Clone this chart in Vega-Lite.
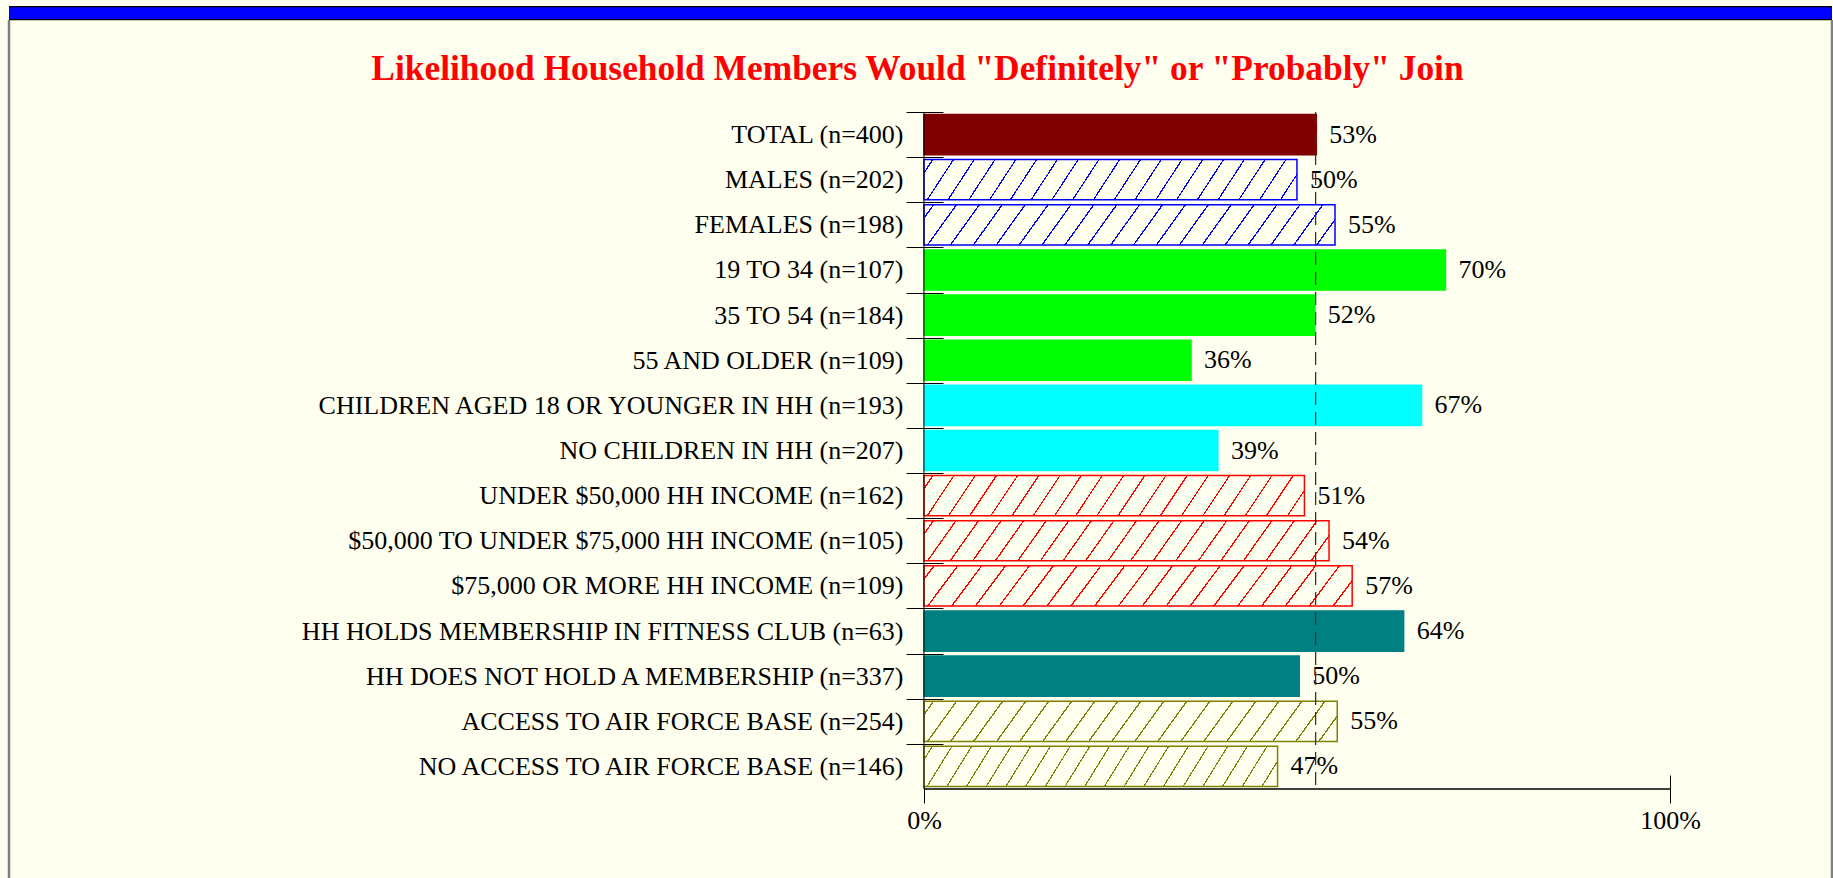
{
  "$schema": "https://vega.github.io/schema/vega-lite/v6.json",
  "width": 1823,
  "height": 858,
  "autosize": {"type": "none"},
  "padding": {"left": 9, "top": 20, "right": 1, "bottom": 0},
  "background": "#FFFFF0",
  "config": {"view": {"stroke": null}, "font": "Liberation Serif"},
  "title": {
    "text": "Likelihood Household Members Would \"Definitely\" or \"Probably\" Join",
    "font": "Liberation Serif", "fontSize": 35.4, "fontWeight": "bold", "color": "#FF0000",
    "anchor": "middle", "frame": "group", "orient": "top", "baseline": "alphabetic", "offset": -102, "dx": -3
  },
  "data": {"values": [
    {"label": "TOTAL (n=400)", "grp": "total", "v": 0.526},
    {"label": "MALES (n=202)", "grp": "gender", "v": 0.500},
    {"label": "FEMALES (n=198)", "grp": "gender", "v": 0.551},
    {"label": "19 TO 34 (n=107)", "grp": "age", "v": 0.699},
    {"label": "35 TO 54 (n=184)", "grp": "age", "v": 0.524},
    {"label": "55 AND OLDER (n=109)", "grp": "age", "v": 0.358},
    {"label": "CHILDREN AGED 18 OR YOUNGER IN HH (n=193)", "grp": "children", "v": 0.667},
    {"label": "NO CHILDREN IN HH (n=207)", "grp": "children", "v": 0.394},
    {"label": "UNDER $50,000 HH INCOME (n=162)", "grp": "income", "v": 0.510},
    {"label": "$50,000 TO UNDER $75,000 HH INCOME (n=105)", "grp": "income", "v": 0.543},
    {"label": "$75,000 OR MORE HH INCOME (n=109)", "grp": "income", "v": 0.574},
    {"label": "HH HOLDS MEMBERSHIP IN FITNESS CLUB (n=63)", "grp": "member", "v": 0.643},
    {"label": "HH DOES NOT HOLD A MEMBERSHIP (n=337)", "grp": "member", "v": 0.503},
    {"label": "ACCESS TO AIR FORCE BASE (n=254)", "grp": "afb", "v": 0.554},
    {"label": "NO ACCESS TO AIR FORCE BASE (n=146)", "grp": "afb", "v": 0.474}
  ]},
  "resolve": {"axis": {"x": "independent", "y": "independent"}},
  "layer": [
    {
      "mark": {"type": "bar", "height": {"band": 0.89}, "strokeWidth": 1.5},
      "encoding": {
        "y": {"field": "label", "type": "nominal", "sort": null,
          "scale": {"domain": ["pad1", "pad2", "TOTAL (n=400)", "MALES (n=202)", "FEMALES (n=198)", "19 TO 34 (n=107)", "35 TO 54 (n=184)", "55 AND OLDER (n=109)", "CHILDREN AGED 18 OR YOUNGER IN HH (n=193)", "NO CHILDREN IN HH (n=207)", "UNDER $50,000 HH INCOME (n=162)", "$50,000 TO UNDER $75,000 HH INCOME (n=105)", "$75,000 OR MORE HH INCOME (n=109)", "HH HOLDS MEMBERSHIP IN FITNESS CLUB (n=63)", "HH DOES NOT HOLD A MEMBERSHIP (n=337)", "ACCESS TO AIR FORCE BASE (n=254)", "NO ACCESS TO AIR FORCE BASE (n=146)", "pad3"], "paddingInner": 0, "paddingOuter": 0.505, "align": 0.038},
          "axis": {"orient": "left", "offset": -934, "title": null, "domain": false, "grid": false, "ticks": true, "tickSize": 37, "tickColor": "#000000", "tickWidth": 1, "tickOffset": -22.57, "labelOffset": 22.57, "labelPadding": 3, "labelFont": "Liberation Serif", "labelFontSize": 26, "labelColor": "#000000", "labelLimit": 0, "labelOverlap": false,
            "values": ["TOTAL (n=400)", "MALES (n=202)", "FEMALES (n=198)", "19 TO 34 (n=107)", "35 TO 54 (n=184)", "55 AND OLDER (n=109)", "CHILDREN AGED 18 OR YOUNGER IN HH (n=193)", "NO CHILDREN IN HH (n=207)", "UNDER $50,000 HH INCOME (n=162)", "$50,000 TO UNDER $75,000 HH INCOME (n=105)", "$75,000 OR MORE HH INCOME (n=109)", "HH HOLDS MEMBERSHIP IN FITNESS CLUB (n=63)", "HH DOES NOT HOLD A MEMBERSHIP (n=337)", "ACCESS TO AIR FORCE BASE (n=254)", "NO ACCESS TO AIR FORCE BASE (n=146)"]}
        },
        "x": {"field": "v", "type": "quantitative",
          "scale": {"domain": [-1.2265, 1.2172], "nice": false},
          "axis": {"orient": "bottom", "offset": -103, "values": [0, 1], "format": ".0%", "domain": false, "grid": false, "tickSize": 28, "tickColor": "#000000", "tickWidth": 1, "labelPadding": 4, "labelFont": "Liberation Serif", "labelFontSize": 26, "labelColor": "#000000", "labelFlush": false, "title": null}
        },
        "fill": {"field": "grp", "type": "nominal", "legend": null,
          "scale": {"domain": ["total", "gender", "age", "children", "income", "member", "afb"], "range": ["#800000", "#0000FF", "#00FF00", "#00FFFF", "#FF0000", "#008080", "#808000"]},
          "condition": [
            {"test": "datum.grp === 'gender'", "value": {"gradient": "linear", "x1": 0, "y1": 0, "x2": 1.065, "y2": 0.0748, "stops": [
              {"offset": 0.0200, "color": "#FFFFF0"}, {"offset": 0.0200, "color": "#0000FF"}, {"offset": 0.0236, "color": "#0000FF"}, {"offset": 0.0236, "color": "#FFFFF0"},
              {"offset": 0.0720, "color": "#FFFFF0"}, {"offset": 0.0720, "color": "#0000FF"}, {"offset": 0.0756, "color": "#0000FF"}, {"offset": 0.0756, "color": "#FFFFF0"},
              {"offset": 0.1241, "color": "#FFFFF0"}, {"offset": 0.1241, "color": "#0000FF"}, {"offset": 0.1277, "color": "#0000FF"}, {"offset": 0.1277, "color": "#FFFFF0"},
              {"offset": 0.1761, "color": "#FFFFF0"}, {"offset": 0.1761, "color": "#0000FF"}, {"offset": 0.1797, "color": "#0000FF"}, {"offset": 0.1797, "color": "#FFFFF0"},
              {"offset": 0.2282, "color": "#FFFFF0"}, {"offset": 0.2282, "color": "#0000FF"}, {"offset": 0.2318, "color": "#0000FF"}, {"offset": 0.2318, "color": "#FFFFF0"},
              {"offset": 0.2802, "color": "#FFFFF0"}, {"offset": 0.2802, "color": "#0000FF"}, {"offset": 0.2838, "color": "#0000FF"}, {"offset": 0.2838, "color": "#FFFFF0"},
              {"offset": 0.3322, "color": "#FFFFF0"}, {"offset": 0.3322, "color": "#0000FF"}, {"offset": 0.3358, "color": "#0000FF"}, {"offset": 0.3358, "color": "#FFFFF0"},
              {"offset": 0.3843, "color": "#FFFFF0"}, {"offset": 0.3843, "color": "#0000FF"}, {"offset": 0.3879, "color": "#0000FF"}, {"offset": 0.3879, "color": "#FFFFF0"},
              {"offset": 0.4363, "color": "#FFFFF0"}, {"offset": 0.4363, "color": "#0000FF"}, {"offset": 0.4399, "color": "#0000FF"}, {"offset": 0.4399, "color": "#FFFFF0"},
              {"offset": 0.4884, "color": "#FFFFF0"}, {"offset": 0.4884, "color": "#0000FF"}, {"offset": 0.4920, "color": "#0000FF"}, {"offset": 0.4920, "color": "#FFFFF0"},
              {"offset": 0.5404, "color": "#FFFFF0"}, {"offset": 0.5404, "color": "#0000FF"}, {"offset": 0.5440, "color": "#0000FF"}, {"offset": 0.5440, "color": "#FFFFF0"},
              {"offset": 0.5924, "color": "#FFFFF0"}, {"offset": 0.5924, "color": "#0000FF"}, {"offset": 0.5960, "color": "#0000FF"}, {"offset": 0.5960, "color": "#FFFFF0"},
              {"offset": 0.6445, "color": "#FFFFF0"}, {"offset": 0.6445, "color": "#0000FF"}, {"offset": 0.6481, "color": "#0000FF"}, {"offset": 0.6481, "color": "#FFFFF0"},
              {"offset": 0.6965, "color": "#FFFFF0"}, {"offset": 0.6965, "color": "#0000FF"}, {"offset": 0.7001, "color": "#0000FF"}, {"offset": 0.7001, "color": "#FFFFF0"},
              {"offset": 0.7486, "color": "#FFFFF0"}, {"offset": 0.7486, "color": "#0000FF"}, {"offset": 0.7522, "color": "#0000FF"}, {"offset": 0.7522, "color": "#FFFFF0"},
              {"offset": 0.8006, "color": "#FFFFF0"}, {"offset": 0.8006, "color": "#0000FF"}, {"offset": 0.8042, "color": "#0000FF"}, {"offset": 0.8042, "color": "#FFFFF0"},
              {"offset": 0.8526, "color": "#FFFFF0"}, {"offset": 0.8526, "color": "#0000FF"}, {"offset": 0.8562, "color": "#0000FF"}, {"offset": 0.8562, "color": "#FFFFF0"},
              {"offset": 0.9047, "color": "#FFFFF0"}, {"offset": 0.9047, "color": "#0000FF"}, {"offset": 0.9083, "color": "#0000FF"}, {"offset": 0.9083, "color": "#FFFFF0"},
              {"offset": 0.9567, "color": "#FFFFF0"}, {"offset": 0.9567, "color": "#0000FF"}, {"offset": 0.9603, "color": "#0000FF"}, {"offset": 0.9603, "color": "#FFFFF0"}
            ]}},
            {"test": "datum.grp === 'income'", "value": {"gradient": "linear", "x1": 0, "y1": 0, "x2": 1.065, "y2": 0.0748, "stops": [
              {"offset": 0.0200, "color": "#FFFFF0"}, {"offset": 0.0200, "color": "#FF0000"}, {"offset": 0.0236, "color": "#FF0000"}, {"offset": 0.0236, "color": "#FFFFF0"},
              {"offset": 0.0720, "color": "#FFFFF0"}, {"offset": 0.0720, "color": "#FF0000"}, {"offset": 0.0756, "color": "#FF0000"}, {"offset": 0.0756, "color": "#FFFFF0"},
              {"offset": 0.1241, "color": "#FFFFF0"}, {"offset": 0.1241, "color": "#FF0000"}, {"offset": 0.1277, "color": "#FF0000"}, {"offset": 0.1277, "color": "#FFFFF0"},
              {"offset": 0.1761, "color": "#FFFFF0"}, {"offset": 0.1761, "color": "#FF0000"}, {"offset": 0.1797, "color": "#FF0000"}, {"offset": 0.1797, "color": "#FFFFF0"},
              {"offset": 0.2282, "color": "#FFFFF0"}, {"offset": 0.2282, "color": "#FF0000"}, {"offset": 0.2318, "color": "#FF0000"}, {"offset": 0.2318, "color": "#FFFFF0"},
              {"offset": 0.2802, "color": "#FFFFF0"}, {"offset": 0.2802, "color": "#FF0000"}, {"offset": 0.2838, "color": "#FF0000"}, {"offset": 0.2838, "color": "#FFFFF0"},
              {"offset": 0.3322, "color": "#FFFFF0"}, {"offset": 0.3322, "color": "#FF0000"}, {"offset": 0.3358, "color": "#FF0000"}, {"offset": 0.3358, "color": "#FFFFF0"},
              {"offset": 0.3843, "color": "#FFFFF0"}, {"offset": 0.3843, "color": "#FF0000"}, {"offset": 0.3879, "color": "#FF0000"}, {"offset": 0.3879, "color": "#FFFFF0"},
              {"offset": 0.4363, "color": "#FFFFF0"}, {"offset": 0.4363, "color": "#FF0000"}, {"offset": 0.4399, "color": "#FF0000"}, {"offset": 0.4399, "color": "#FFFFF0"},
              {"offset": 0.4884, "color": "#FFFFF0"}, {"offset": 0.4884, "color": "#FF0000"}, {"offset": 0.4920, "color": "#FF0000"}, {"offset": 0.4920, "color": "#FFFFF0"},
              {"offset": 0.5404, "color": "#FFFFF0"}, {"offset": 0.5404, "color": "#FF0000"}, {"offset": 0.5440, "color": "#FF0000"}, {"offset": 0.5440, "color": "#FFFFF0"},
              {"offset": 0.5924, "color": "#FFFFF0"}, {"offset": 0.5924, "color": "#FF0000"}, {"offset": 0.5960, "color": "#FF0000"}, {"offset": 0.5960, "color": "#FFFFF0"},
              {"offset": 0.6445, "color": "#FFFFF0"}, {"offset": 0.6445, "color": "#FF0000"}, {"offset": 0.6481, "color": "#FF0000"}, {"offset": 0.6481, "color": "#FFFFF0"},
              {"offset": 0.6965, "color": "#FFFFF0"}, {"offset": 0.6965, "color": "#FF0000"}, {"offset": 0.7001, "color": "#FF0000"}, {"offset": 0.7001, "color": "#FFFFF0"},
              {"offset": 0.7486, "color": "#FFFFF0"}, {"offset": 0.7486, "color": "#FF0000"}, {"offset": 0.7522, "color": "#FF0000"}, {"offset": 0.7522, "color": "#FFFFF0"},
              {"offset": 0.8006, "color": "#FFFFF0"}, {"offset": 0.8006, "color": "#FF0000"}, {"offset": 0.8042, "color": "#FF0000"}, {"offset": 0.8042, "color": "#FFFFF0"},
              {"offset": 0.8526, "color": "#FFFFF0"}, {"offset": 0.8526, "color": "#FF0000"}, {"offset": 0.8562, "color": "#FF0000"}, {"offset": 0.8562, "color": "#FFFFF0"},
              {"offset": 0.9047, "color": "#FFFFF0"}, {"offset": 0.9047, "color": "#FF0000"}, {"offset": 0.9083, "color": "#FF0000"}, {"offset": 0.9083, "color": "#FFFFF0"},
              {"offset": 0.9567, "color": "#FFFFF0"}, {"offset": 0.9567, "color": "#FF0000"}, {"offset": 0.9603, "color": "#FF0000"}, {"offset": 0.9603, "color": "#FFFFF0"}
            ]}},
            {"test": "datum.grp === 'afb'", "value": {"gradient": "linear", "x1": 0, "y1": 0, "x2": 1.065, "y2": 0.0748, "stops": [
              {"offset": 0.0200, "color": "#FFFFF0"}, {"offset": 0.0200, "color": "#808000"}, {"offset": 0.0236, "color": "#808000"}, {"offset": 0.0236, "color": "#FFFFF0"},
              {"offset": 0.0720, "color": "#FFFFF0"}, {"offset": 0.0720, "color": "#808000"}, {"offset": 0.0756, "color": "#808000"}, {"offset": 0.0756, "color": "#FFFFF0"},
              {"offset": 0.1241, "color": "#FFFFF0"}, {"offset": 0.1241, "color": "#808000"}, {"offset": 0.1277, "color": "#808000"}, {"offset": 0.1277, "color": "#FFFFF0"},
              {"offset": 0.1761, "color": "#FFFFF0"}, {"offset": 0.1761, "color": "#808000"}, {"offset": 0.1797, "color": "#808000"}, {"offset": 0.1797, "color": "#FFFFF0"},
              {"offset": 0.2282, "color": "#FFFFF0"}, {"offset": 0.2282, "color": "#808000"}, {"offset": 0.2318, "color": "#808000"}, {"offset": 0.2318, "color": "#FFFFF0"},
              {"offset": 0.2802, "color": "#FFFFF0"}, {"offset": 0.2802, "color": "#808000"}, {"offset": 0.2838, "color": "#808000"}, {"offset": 0.2838, "color": "#FFFFF0"},
              {"offset": 0.3322, "color": "#FFFFF0"}, {"offset": 0.3322, "color": "#808000"}, {"offset": 0.3358, "color": "#808000"}, {"offset": 0.3358, "color": "#FFFFF0"},
              {"offset": 0.3843, "color": "#FFFFF0"}, {"offset": 0.3843, "color": "#808000"}, {"offset": 0.3879, "color": "#808000"}, {"offset": 0.3879, "color": "#FFFFF0"},
              {"offset": 0.4363, "color": "#FFFFF0"}, {"offset": 0.4363, "color": "#808000"}, {"offset": 0.4399, "color": "#808000"}, {"offset": 0.4399, "color": "#FFFFF0"},
              {"offset": 0.4884, "color": "#FFFFF0"}, {"offset": 0.4884, "color": "#808000"}, {"offset": 0.4920, "color": "#808000"}, {"offset": 0.4920, "color": "#FFFFF0"},
              {"offset": 0.5404, "color": "#FFFFF0"}, {"offset": 0.5404, "color": "#808000"}, {"offset": 0.5440, "color": "#808000"}, {"offset": 0.5440, "color": "#FFFFF0"},
              {"offset": 0.5924, "color": "#FFFFF0"}, {"offset": 0.5924, "color": "#808000"}, {"offset": 0.5960, "color": "#808000"}, {"offset": 0.5960, "color": "#FFFFF0"},
              {"offset": 0.6445, "color": "#FFFFF0"}, {"offset": 0.6445, "color": "#808000"}, {"offset": 0.6481, "color": "#808000"}, {"offset": 0.6481, "color": "#FFFFF0"},
              {"offset": 0.6965, "color": "#FFFFF0"}, {"offset": 0.6965, "color": "#808000"}, {"offset": 0.7001, "color": "#808000"}, {"offset": 0.7001, "color": "#FFFFF0"},
              {"offset": 0.7486, "color": "#FFFFF0"}, {"offset": 0.7486, "color": "#808000"}, {"offset": 0.7522, "color": "#808000"}, {"offset": 0.7522, "color": "#FFFFF0"},
              {"offset": 0.8006, "color": "#FFFFF0"}, {"offset": 0.8006, "color": "#808000"}, {"offset": 0.8042, "color": "#808000"}, {"offset": 0.8042, "color": "#FFFFF0"},
              {"offset": 0.8526, "color": "#FFFFF0"}, {"offset": 0.8526, "color": "#808000"}, {"offset": 0.8562, "color": "#808000"}, {"offset": 0.8562, "color": "#FFFFF0"},
              {"offset": 0.9047, "color": "#FFFFF0"}, {"offset": 0.9047, "color": "#808000"}, {"offset": 0.9083, "color": "#808000"}, {"offset": 0.9083, "color": "#FFFFF0"},
              {"offset": 0.9567, "color": "#FFFFF0"}, {"offset": 0.9567, "color": "#808000"}, {"offset": 0.9603, "color": "#808000"}, {"offset": 0.9603, "color": "#FFFFF0"}
            ]}}
          ]
        },
        "stroke": {"field": "grp", "type": "nominal", "legend": null,
          "scale": {"domain": ["total", "gender", "age", "children", "income", "member", "afb"], "range": ["#800000", "#0000FF", "#00FF00", "#00FFFF", "#FF0000", "#008080", "#808000"]}
        }
      }
    },
    {
      "mark": {"type": "text", "align": "left", "baseline": "middle", "dx": 13, "font": "Liberation Serif", "fontSize": 26, "fill": "#000000"},
      "encoding": {
        "y": {"field": "label", "type": "nominal", "sort": null,
          "scale": {"domain": ["pad1", "pad2", "TOTAL (n=400)", "MALES (n=202)", "FEMALES (n=198)", "19 TO 34 (n=107)", "35 TO 54 (n=184)", "55 AND OLDER (n=109)", "CHILDREN AGED 18 OR YOUNGER IN HH (n=193)", "NO CHILDREN IN HH (n=207)", "UNDER $50,000 HH INCOME (n=162)", "$50,000 TO UNDER $75,000 HH INCOME (n=105)", "$75,000 OR MORE HH INCOME (n=109)", "HH HOLDS MEMBERSHIP IN FITNESS CLUB (n=63)", "HH DOES NOT HOLD A MEMBERSHIP (n=337)", "ACCESS TO AIR FORCE BASE (n=254)", "NO ACCESS TO AIR FORCE BASE (n=146)", "pad3"], "paddingInner": 0, "paddingOuter": 0.505, "align": 0.038},
          "axis": null},
        "x": {"field": "v", "type": "quantitative", "scale": {"domain": [-1.2265, 1.2172], "nice": false}, "axis": null},
        "text": {"field": "v", "type": "quantitative", "format": ".0%"}
      }
    },
    {
      "data": {"values": [{}]},
      "mark": {"type": "rule", "color": "#000000", "strokeWidth": 1},
      "encoding": {
        "x": {"datum": 0, "type": "quantitative", "scale": {"domain": [-1.2265, 1.2172], "nice": false},
          "axis": {"orient": "top", "offset": 6.85, "domain": true, "domainColor": "#000000", "domainWidth": 14.3, "ticks": false, "labels": false, "grid": false, "title": null, "translate": 0}},
        "y": {"datum": "TOTAL (n=400)", "type": "nominal", "bandPosition": 0,
          "scale": {"domain": ["pad1", "pad2", "TOTAL (n=400)", "MALES (n=202)", "FEMALES (n=198)", "19 TO 34 (n=107)", "35 TO 54 (n=184)", "55 AND OLDER (n=109)", "CHILDREN AGED 18 OR YOUNGER IN HH (n=193)", "NO CHILDREN IN HH (n=207)", "UNDER $50,000 HH INCOME (n=162)", "$50,000 TO UNDER $75,000 HH INCOME (n=105)", "$75,000 OR MORE HH INCOME (n=109)", "HH HOLDS MEMBERSHIP IN FITNESS CLUB (n=63)", "HH DOES NOT HOLD A MEMBERSHIP (n=337)", "ACCESS TO AIR FORCE BASE (n=254)", "NO ACCESS TO AIR FORCE BASE (n=146)", "pad3"], "paddingInner": 0, "paddingOuter": 0.505, "align": 0.038},
          "axis": {"orient": "left", "offset": 0, "domain": true, "domainColor": "#808080", "domainWidth": 2.5, "ticks": false, "labels": false, "grid": false, "title": null, "translate": 0}},
        "y2": {"datum": "NO ACCESS TO AIR FORCE BASE (n=146)", "bandPosition": 1}
      }
    },
    {
      "data": {"values": [{}]},
      "mark": {"type": "rule", "color": "#333333", "strokeWidth": 1.3, "strokeDash": [13, 7]},
      "encoding": {
        "x": {"datum": 0.525, "type": "quantitative", "scale": {"domain": [-1.2265, 1.2172], "nice": false},
          "axis": {"orient": "top", "offset": 6.85, "domain": true, "domainColor": "#0000FF", "domainWidth": 11.7, "ticks": false, "labels": false, "grid": false, "title": null, "translate": 0, "zindex": 1}},
        "y": {"datum": "TOTAL (n=400)", "type": "nominal", "bandPosition": 0,
          "scale": {"domain": ["pad1", "pad2", "TOTAL (n=400)", "MALES (n=202)", "FEMALES (n=198)", "19 TO 34 (n=107)", "35 TO 54 (n=184)", "55 AND OLDER (n=109)", "CHILDREN AGED 18 OR YOUNGER IN HH (n=193)", "NO CHILDREN IN HH (n=207)", "UNDER $50,000 HH INCOME (n=162)", "$50,000 TO UNDER $75,000 HH INCOME (n=105)", "$75,000 OR MORE HH INCOME (n=109)", "HH HOLDS MEMBERSHIP IN FITNESS CLUB (n=63)", "HH DOES NOT HOLD A MEMBERSHIP (n=337)", "ACCESS TO AIR FORCE BASE (n=254)", "NO ACCESS TO AIR FORCE BASE (n=146)", "pad3"], "paddingInner": 0, "paddingOuter": 0.505, "align": 0.038},
          "axis": {"orient": "right", "offset": 0, "domain": true, "domainColor": "#808080", "domainWidth": 2.5, "ticks": false, "labels": false, "grid": false, "title": null, "translate": 0}},
        "y2": {"datum": "NO ACCESS TO AIR FORCE BASE (n=146)", "bandPosition": 1}
      }
    },
    {
      "data": {"values": [{}]},
      "mark": {"type": "rule", "color": "#000000", "strokeWidth": 1.3},
      "encoding": {
        "x": {"datum": 0, "type": "quantitative", "scale": {"domain": [-1.2265, 1.2172], "nice": false}, "axis": null},
        "x2": {"datum": 1},
        "y": {"datum": "NO ACCESS TO AIR FORCE BASE (n=146)", "type": "nominal", "bandPosition": 1,
          "scale": {"domain": ["pad1", "pad2", "TOTAL (n=400)", "MALES (n=202)", "FEMALES (n=198)", "19 TO 34 (n=107)", "35 TO 54 (n=184)", "55 AND OLDER (n=109)", "CHILDREN AGED 18 OR YOUNGER IN HH (n=193)", "NO CHILDREN IN HH (n=207)", "UNDER $50,000 HH INCOME (n=162)", "$50,000 TO UNDER $75,000 HH INCOME (n=105)", "$75,000 OR MORE HH INCOME (n=109)", "HH HOLDS MEMBERSHIP IN FITNESS CLUB (n=63)", "HH DOES NOT HOLD A MEMBERSHIP (n=337)", "ACCESS TO AIR FORCE BASE (n=254)", "NO ACCESS TO AIR FORCE BASE (n=146)", "pad3"], "paddingInner": 0, "paddingOuter": 0.505, "align": 0.038},
          "axis": null}
      }
    }
  ]
}
